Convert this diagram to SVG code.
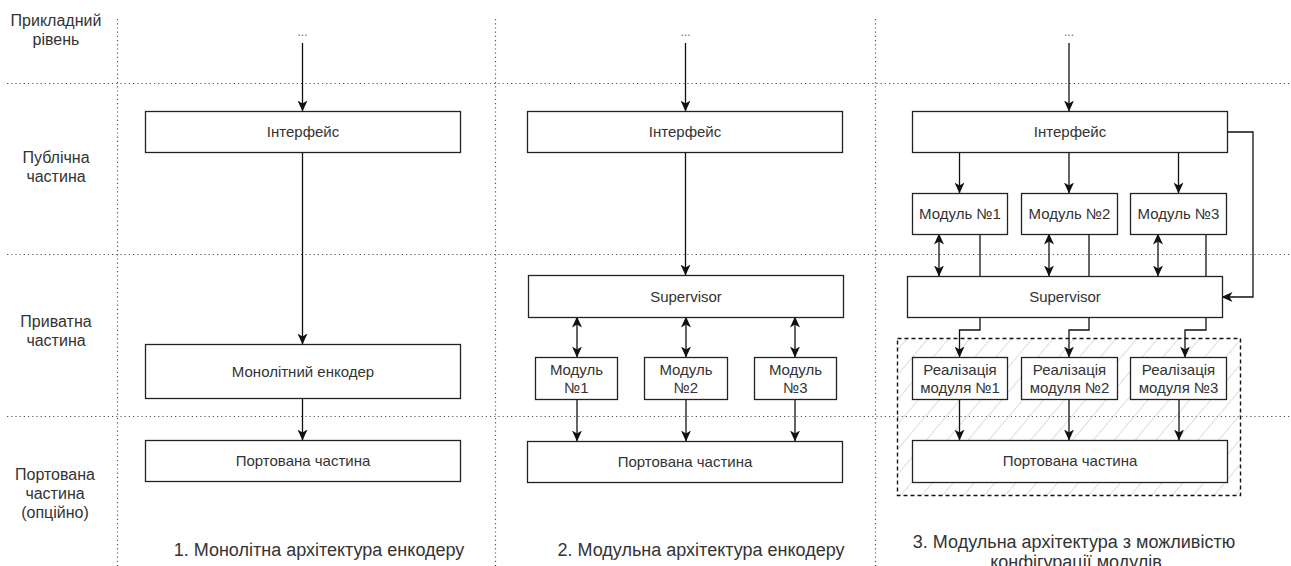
<svg xmlns="http://www.w3.org/2000/svg" width="1291" height="566" viewBox="0 0 1291 566">
<defs>
<style>
text{font-family:"Liberation Sans",Arial,sans-serif;fill:#333;text-anchor:middle}
.box{fill:#fff;stroke:#222;stroke-width:1.3}
.lbl{font-size:15px}
.side{font-size:16px}
.cap{font-size:18px}
.dots{font-size:12px;fill:#666}
.grid{stroke:#555;stroke-width:1.2;stroke-dasharray:1.2 3;fill:none}
.c{fill:none;stroke:#111;stroke-width:1.3}
.a{marker-end:url(#ah)}
.b{marker-end:url(#ah);marker-start:url(#ah)}
</style>
<marker id="ah" viewBox="0 0 11 10" refX="10.5" refY="5" markerWidth="11" markerHeight="10" markerUnits="userSpaceOnUse" orient="auto-start-reverse">
<path d="M0,0 L11,5 L0,10 L3,5 Z" fill="#111"/>
</marker>
<pattern id="hatch" patternUnits="userSpaceOnUse" width="16" height="16" patternTransform="rotate(40)">
<line x1="0" y1="0" x2="0" y2="16" stroke="#bdbdbd" stroke-width="1"/>
</pattern>
</defs>

<g id="grid">
<line class="grid" x1="117.5" y1="19" x2="117.5" y2="566"/>
<line class="grid" x1="495.5" y1="19" x2="495.5" y2="566"/>
<line class="grid" x1="875.5" y1="19" x2="875.5" y2="566"/>
<line class="grid" x1="7" y1="83.5" x2="1291" y2="83.5"/>
<line class="grid" x1="7" y1="254.5" x2="1291" y2="254.5"/>
<line class="grid" x1="7" y1="416.5" x2="1291" y2="416.5"/>
</g>

<g id="side-labels">
<text class="side" x="56" y="26">Прикладний</text>
<text class="side" x="56" y="45">рівень</text>
<text class="side" x="56" y="163">Публічна</text>
<text class="side" x="56" y="182">частина</text>
<text class="side" x="56" y="327">Приватна</text>
<text class="side" x="56" y="346">частина</text>
<text class="side" x="55" y="480">Портована</text>
<text class="side" x="55" y="499">частина</text>
<text class="side" x="55" y="518">(опційно)</text>
</g>

<g id="config-area">
<rect x="897.5" y="338.5" width="343" height="157" fill="url(#hatch)" stroke="#111" stroke-width="1.4" stroke-dasharray="4 3"/>
</g>

<g id="connectors">
<!-- column 1 -->
<line class="c a" x1="302.5" y1="43" x2="302.5" y2="111"/>
<line class="c a" x1="302.5" y1="152" x2="302.5" y2="344"/>
<line class="c a" x1="302.5" y1="399" x2="302.5" y2="440"/>
<!-- column 2 -->
<line class="c a" x1="685.5" y1="43" x2="685.5" y2="111"/>
<line class="c a" x1="685.5" y1="152" x2="685.5" y2="275"/>
<line class="c b" x1="577" y1="317" x2="577" y2="357"/>
<line class="c b" x1="686" y1="317" x2="686" y2="357"/>
<line class="c b" x1="795" y1="317" x2="795" y2="357"/>
<line class="c a" x1="577" y1="399" x2="577" y2="441"/>
<line class="c a" x1="686" y1="399" x2="686" y2="441"/>
<line class="c a" x1="795" y1="399" x2="795" y2="441"/>
<!-- column 3 -->
<line class="c a" x1="1069" y1="43" x2="1069" y2="111"/>
<line class="c a" x1="959.5" y1="152" x2="959.5" y2="193"/>
<line class="c a" x1="1069" y1="152" x2="1069" y2="193"/>
<line class="c a" x1="1178.5" y1="152" x2="1178.5" y2="193"/>
<polyline class="c a" points="1227,132 1253,132 1253,297 1222,297"/>
<line class="c b" x1="939" y1="234" x2="939" y2="276"/>
<line class="c b" x1="1049" y1="234" x2="1049" y2="276"/>
<line class="c b" x1="1158" y1="234" x2="1158" y2="276"/>
<line class="c" x1="980" y1="234" x2="980" y2="276"/>
<line class="c" x1="1089" y1="234" x2="1089" y2="276"/>
<line class="c" x1="1206" y1="234" x2="1206" y2="276"/>
<polyline class="c a" points="980,317 980,330 959.5,330 959.5,357"/>
<polyline class="c a" points="1089,317 1089,330 1069,330 1069,357"/>
<polyline class="c a" points="1206,317 1206,330 1185,330 1185,357"/>
<line class="c a" x1="959.5" y1="399" x2="959.5" y2="440"/>
<line class="c a" x1="1069" y1="399" x2="1069" y2="440"/>
<line class="c a" x1="1179" y1="399" x2="1179" y2="440"/>
</g>

<g id="dots">
<text class="dots" x="302.5" y="36">...</text>
<text class="dots" x="685.5" y="36">...</text>
<text class="dots" x="1069" y="36">...</text>
</g>

<!-- column 1 -->
<g id="c1-interface"><rect class="box" x="145.5" y="111.5" width="315" height="41"/><text class="lbl" x="303" y="137">Інтерфейс</text></g>
<g id="c1-monolith"><rect class="box" x="145.5" y="344.5" width="315" height="54"/><text class="lbl" x="303" y="377">Монолітний енкодер</text></g>
<g id="c1-ported"><rect class="box" x="145.5" y="440.5" width="315" height="41"/><text class="lbl" x="303" y="466">Портована частина</text></g>

<!-- column 2 -->
<g id="c2-interface"><rect class="box" x="527.5" y="111.5" width="315" height="41"/><text class="lbl" x="685" y="137">Інтерфейс</text></g>
<g id="c2-supervisor"><rect class="box" x="528.5" y="275.5" width="315" height="42"/><text class="lbl" x="686" y="301.5">Supervisor</text></g>
<g id="c2-m1"><rect class="box" x="535.5" y="357.5" width="82" height="42"/><text class="lbl" x="576.5" y="375">Модуль</text><text class="lbl" x="576.5" y="393">№1</text></g>
<g id="c2-m2"><rect class="box" x="644.5" y="357.5" width="83" height="42"/><text class="lbl" x="686" y="375">Модуль</text><text class="lbl" x="686" y="393">№2</text></g>
<g id="c2-m3"><rect class="box" x="754.5" y="357.5" width="82" height="42"/><text class="lbl" x="795.5" y="375">Модуль</text><text class="lbl" x="795.5" y="393">№3</text></g>
<g id="c2-ported"><rect class="box" x="527.5" y="441.5" width="315" height="41"/><text class="lbl" x="685" y="467">Портована частина</text></g>

<!-- column 3 -->
<g id="c3-interface"><rect class="box" x="912.5" y="111.5" width="315" height="41"/><text class="lbl" x="1070" y="137">Інтерфейс</text></g>
<g id="c3-m1"><rect class="box" x="912.5" y="193.5" width="95" height="41"/><text class="lbl" x="960" y="219">Модуль №1</text></g>
<g id="c3-m2"><rect class="box" x="1021.5" y="193.5" width="96" height="41"/><text class="lbl" x="1069.5" y="219">Модуль №2</text></g>
<g id="c3-m3"><rect class="box" x="1130.5" y="193.5" width="96" height="41"/><text class="lbl" x="1178.5" y="219">Модуль №3</text></g>
<g id="c3-supervisor"><rect class="box" x="907.5" y="276.5" width="315" height="41"/><text class="lbl" x="1065" y="302">Supervisor</text></g>
<g id="c3-r1"><rect class="box" x="912.5" y="357.5" width="95" height="42"/><text class="lbl" x="960" y="375">Реалізація</text><text class="lbl" x="960" y="393">модуля №1</text></g>
<g id="c3-r2"><rect class="box" x="1021.5" y="357.5" width="96" height="42"/><text class="lbl" x="1069.5" y="375">Реалізація</text><text class="lbl" x="1069.5" y="393">модуля №2</text></g>
<g id="c3-r3"><rect class="box" x="1130.5" y="357.5" width="96" height="42"/><text class="lbl" x="1178.5" y="375">Реалізація</text><text class="lbl" x="1178.5" y="393">модуля №3</text></g>
<g id="c3-ported"><rect class="box" x="912.5" y="440.5" width="315" height="42"/><text class="lbl" x="1070" y="466">Портована частина</text></g>

<g id="captions">
<text class="cap" x="319" y="556">1. Монолітна архітектура енкодеру</text>
<text class="cap" x="701" y="556">2. Модульна архітектура енкодеру</text>
<text class="cap" x="1074" y="548">3. Модульна архітектура з можливістю</text>
<text class="cap" x="1076" y="568">конфігурації модулів</text>
</g>
</svg>
